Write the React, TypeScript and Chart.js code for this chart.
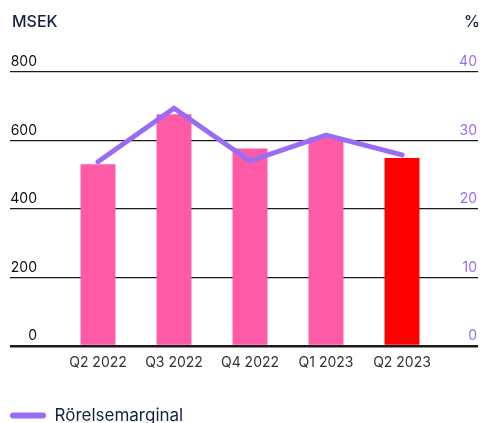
import React, { useEffect, useRef } from "react";
import { Chart, registerables } from "chart.js";

Chart.register(...registerables);

const categories = ["Q2 2022", "Q3 2022", "Q4 2022", "Q1 2023", "Q2 2023"];
const rorelseresultat = [531, 677, 577, 609, 549];
const rorelsemarginal = [26.9, 34.7, 27.0, 30.8, 27.9];
const leftTicks = [0, 200, 400, 600, 800];
const rightTicks = [0, 10, 20, 30, 40];
const leftUnit = "MSEK";
const rightUnit = "%";
const lineLabel = "Rörelsemarginal";

const PINK = "#FF5AA5";
const RED = "#FF0000";
const PURPLE = "#9A6BF5";
const NAVY = "#13223F";
const FONT = "Inter, 'Noto Sans', sans-serif";

export default function App() {
  const ref = useRef<HTMLCanvasElement | null>(null);

  useEffect(() => {
    if (!ref.current) return;
    Chart.defaults.font.family = FONT;
    const chart = new Chart(ref.current, {
      type: "bar",
      data: {
        labels: categories,
        datasets: [
          {
            type: "line",
            label: lineLabel,
            data: rorelsemarginal,
            yAxisID: "y1",
            borderColor: PURPLE,
            backgroundColor: PURPLE,
            borderWidth: 5,
            pointRadius: 0,
            tension: 0,
            borderCapStyle: "round",
            order: 0,
          } as any,
          {
            type: "bar",
            label: "Rörelseresultat",
            data: rorelseresultat,
            yAxisID: "y",
            backgroundColor: rorelseresultat.map((_, i) =>
              i === rorelseresultat.length - 1 ? RED : PINK
            ),
            borderWidth: 0,
            categoryPercentage: 1,
            barPercentage: 0.46,
            order: 1,
          },
        ],
      },
      options: {
        responsive: false,
        animation: false,
        layout: { padding: { left: 10, right: 3, top: 72, bottom: 0 } },
        plugins: {
          tooltip: { enabled: false },
          title: { display: false },
          legend: {
            display: true,
            position: "bottom",
            align: "start",
            labels: {
              padding: 0,
              boxWidth: 36,
              boxHeight: 6,
              useBorderRadius: true,
              borderRadius: 3,
              color: NAVY,
              font: { size: 17, family: FONT },
              generateLabels: () => [
                {
                  text: lineLabel,
                  fillStyle: PURPLE,
                  strokeStyle: PURPLE,
                  lineWidth: 0,
                  borderRadius: 3,
                  fontColor: NAVY,
                  datasetIndex: 0,
                  hidden: false,
                } as any,
              ],
            },
          },
        },
        scales: {
          x: {
            grid: { display: false, drawTicks: false },
            border: { display: false },
            ticks: {
              color: "#333333",
              font: { size: 14, family: FONT },
              padding: 8,
              maxRotation: 0,
            },
            afterFit: (s: any) => {
              s.height = 61;
            },
          },
          y: {
            position: "left",
            min: leftTicks[0],
            max: leftTicks[leftTicks.length - 1],
            afterBuildTicks: (s: any) => {
              s.ticks = leftTicks.map((v) => ({ value: v }));
            },
            afterFit: (s: any) => {
              s.width = 50;
            },
            border: { display: false },
            grid: {
              color: "#1a1a1a",
              lineWidth: (c: any) => (c.tick && c.tick.value === 0 ? 2.5 : 1.3),
              drawTicks: true,
              tickLength: 50,
            },
            ticks: {
              color: "#111111",
              font: { size: 14, family: FONT },
              padding: -27,
              labelOffset: -10,
            },
          },
          y1: {
            position: "right",
            min: rightTicks[0],
            max: rightTicks[rightTicks.length - 1],
            afterBuildTicks: (s: any) => {
              s.ticks = rightTicks.map((v) => ({ value: v }));
            },
            afterFit: (s: any) => {
              s.width = 38;
            },
            border: { display: false },
            grid: {
              color: "#1a1a1a",
              lineWidth: (c: any) => (c.tick && c.tick.value === 0 ? 2.5 : 1.3),
              drawOnChartArea: false,
              drawTicks: true,
              tickLength: 38,
            },
            ticks: {
              mirror: true,
              color: PURPLE,
              font: { size: 14, family: FONT },
              padding: 37,
              labelOffset: -10,
            },
          },
        },
      },
    });
    return () => chart.destroy();
  }, []);

  return (
    <div
      style={{
        position: "absolute",
        left: 0,
        top: 0,
        width: 481,
        height: 423,
        overflow: "hidden",
        background: "#fff",
      }}
    >
      <canvas
        ref={ref}
        width={481}
        height={434}
        style={{ position: "absolute", left: 0, top: 0 }}
      />
      <div
        style={{
          position: "absolute",
          left: 12,
          top: 11,
          fontFamily: FONT,
          fontSize: 16,
          fontWeight: 500,
          color: NAVY,
          lineHeight: "20px",
        }}
      >
        {leftUnit}
      </div>
      <div
        style={{
          position: "absolute",
          right: 1,
          top: 11,
          fontFamily: FONT,
          fontSize: 16,
          fontWeight: 500,
          color: NAVY,
          lineHeight: "20px",
        }}
      >
        {rightUnit}
      </div>
    </div>
  );
}
